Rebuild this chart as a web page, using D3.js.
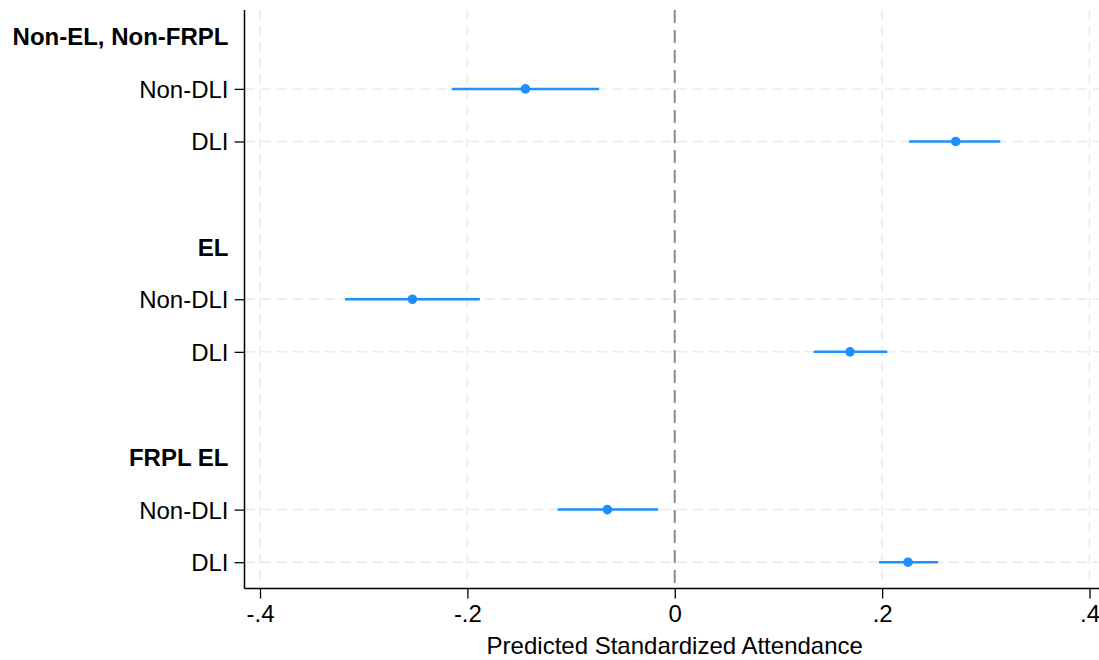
<!DOCTYPE html>
<html>
<head>
<meta charset="utf-8">
<script src="https://cdn.jsdelivr.net/npm/d3@7"></script>
<style>
  body { margin: 0; background: #fff; }
  text { font-family: "Liberation Sans", Arial, sans-serif; }
</style>
</head>
<body>
<svg id="chart" width="1099" height="660"></svg>
<script>
// groups and estimates
const groups = ["Non-EL, Non-FRPL", "EL", "FRPL EL"];
const conditions = ["Non-DLI", "DLI"];
const estimates = [-0.144, 0.271, -0.253, 0.169, -0.065, 0.225];
const lower = [-0.215, 0.226, -0.318, 0.134, -0.113, 0.197];
const upper = [-0.073, 0.314, -0.188, 0.205, -0.016, 0.254];
const xTicks = [-0.4, -0.2, 0, 0.2, 0.4];

// build row layout: header, cond, cond, (gap) ...
const rows = [];
const points = [];
groups.forEach((g, gi) => {
  const base = gi * 4;
  rows.push({ idx: base, label: g, header: true });
  conditions.forEach((c, ci) => {
    const k = gi * 2 + ci;
    rows.push({ idx: base + 1 + ci, label: c, header: false });
    points.push({ idx: base + 1 + ci, est: estimates[k], lo: lower[k], hi: upper[k] });
  });
});

const svg = d3.select("#chart");
const plotL = 244.5, plotR = 1099, plotT = 10, plotB = 588.5;
const fontSize = 24;

const x = d3.scaleLinear().domain([-0.4, 0.4]).range([260, 1089.5]);
const y = d3.scaleLinear().domain([-0.5, 10.5]).range([plotT, plotB]);

// stata style labels: -.4, -.2, 0, .2, .4 (plain hyphen)
const fmt = d3.formatLocale({ decimal: ".", thousands: ",", grouping: [3], currency: ["", ""], minus: "-" }).format(".1f");
const tickLabel = d => d === 0 ? "0" : fmt(d).replace("0.", ".");

// vertical grid
svg.append("g")
  .selectAll("line")
  .data(xTicks.filter(d => d !== 0))
  .join("line")
  .attr("x1", d => x(d)).attr("x2", d => x(d))
  .attr("y1", plotT).attr("y2", plotB)
  .attr("stroke", "#eaeaea").attr("stroke-width", 1.5)
  .attr("stroke-dasharray", "10,6");

// horizontal grid on condition rows
svg.append("g")
  .selectAll("line")
  .data(rows.filter(r => !r.header))
  .join("line")
  .attr("x1", plotL).attr("x2", plotR)
  .attr("y1", r => y(r.idx)).attr("y2", r => y(r.idx))
  .attr("stroke", "#eaeaea").attr("stroke-width", 1.5)
  .attr("stroke-dasharray", "10,6");

// zero reference line
svg.append("line")
  .attr("x1", x(0)).attr("x2", x(0))
  .attr("y1", plotT).attr("y2", plotB)
  .attr("stroke", "#8a8a8a").attr("stroke-width", 2)
  .attr("stroke-dasharray", "13,7");

// CIs and points
const marks = svg.append("g");
marks.selectAll("line")
  .data(points)
  .join("line")
  .attr("x1", d => x(d.lo)).attr("x2", d => x(d.hi))
  .attr("y1", d => y(d.idx)).attr("y2", d => y(d.idx))
  .attr("stroke", "#1e8fff").attr("stroke-width", 2.5);
marks.selectAll("circle")
  .data(points)
  .join("circle")
  .attr("cx", d => x(d.est)).attr("cy", d => y(d.idx))
  .attr("r", 4.8).attr("fill", "#1e8fff");

// y axis
const yAxis = d3.axisLeft(y)
  .tickValues(rows.map(r => r.idx))
  .tickFormat(i => rows.find(r => r.idx === i).label)
  .tickSize(10).tickPadding(6);
const gy = svg.append("g").attr("transform", `translate(${plotL},0)`).call(yAxis);
gy.select(".domain").attr("d", `M0,${plotT}V${plotB}`).attr("stroke", "#000").attr("stroke-width", 1.5);
gy.selectAll(".tick line").attr("stroke", "#000").attr("stroke-width", 1.3);
gy.selectAll(".tick text")
  .attr("font-size", fontSize).attr("fill", "#000")
  .attr("font-family", "'Liberation Sans', Arial, sans-serif")
  .attr("dy", "0.35em");
gy.selectAll(".tick")
  .filter(i => rows.find(r => r.idx === i).header)
  .each(function () {
    d3.select(this).select("line").remove();
    d3.select(this).select("text").attr("x", -16).attr("font-weight", "bold");
  });

// x axis
const xAxis = d3.axisBottom(x)
  .tickValues(xTicks)
  .tickFormat(tickLabel)
  .tickSize(10).tickPadding(6);
const gx = svg.append("g").attr("transform", `translate(0,${plotB})`).call(xAxis);
gx.select(".domain").attr("d", `M${plotL},0H${plotR}`).attr("stroke", "#000").attr("stroke-width", 1.5);
gx.selectAll(".tick line").attr("stroke", "#000").attr("stroke-width", 1.3);
gx.selectAll(".tick text")
  .attr("font-size", fontSize).attr("fill", "#000")
  .attr("font-family", "'Liberation Sans', Arial, sans-serif");

svg.append("text")
  .attr("x", x(0)).attr("y", 653.5)
  .attr("text-anchor", "middle")
  .attr("font-size", fontSize)
  .text("Predicted Standardized Attendance");
</script>
</body>
</html>
